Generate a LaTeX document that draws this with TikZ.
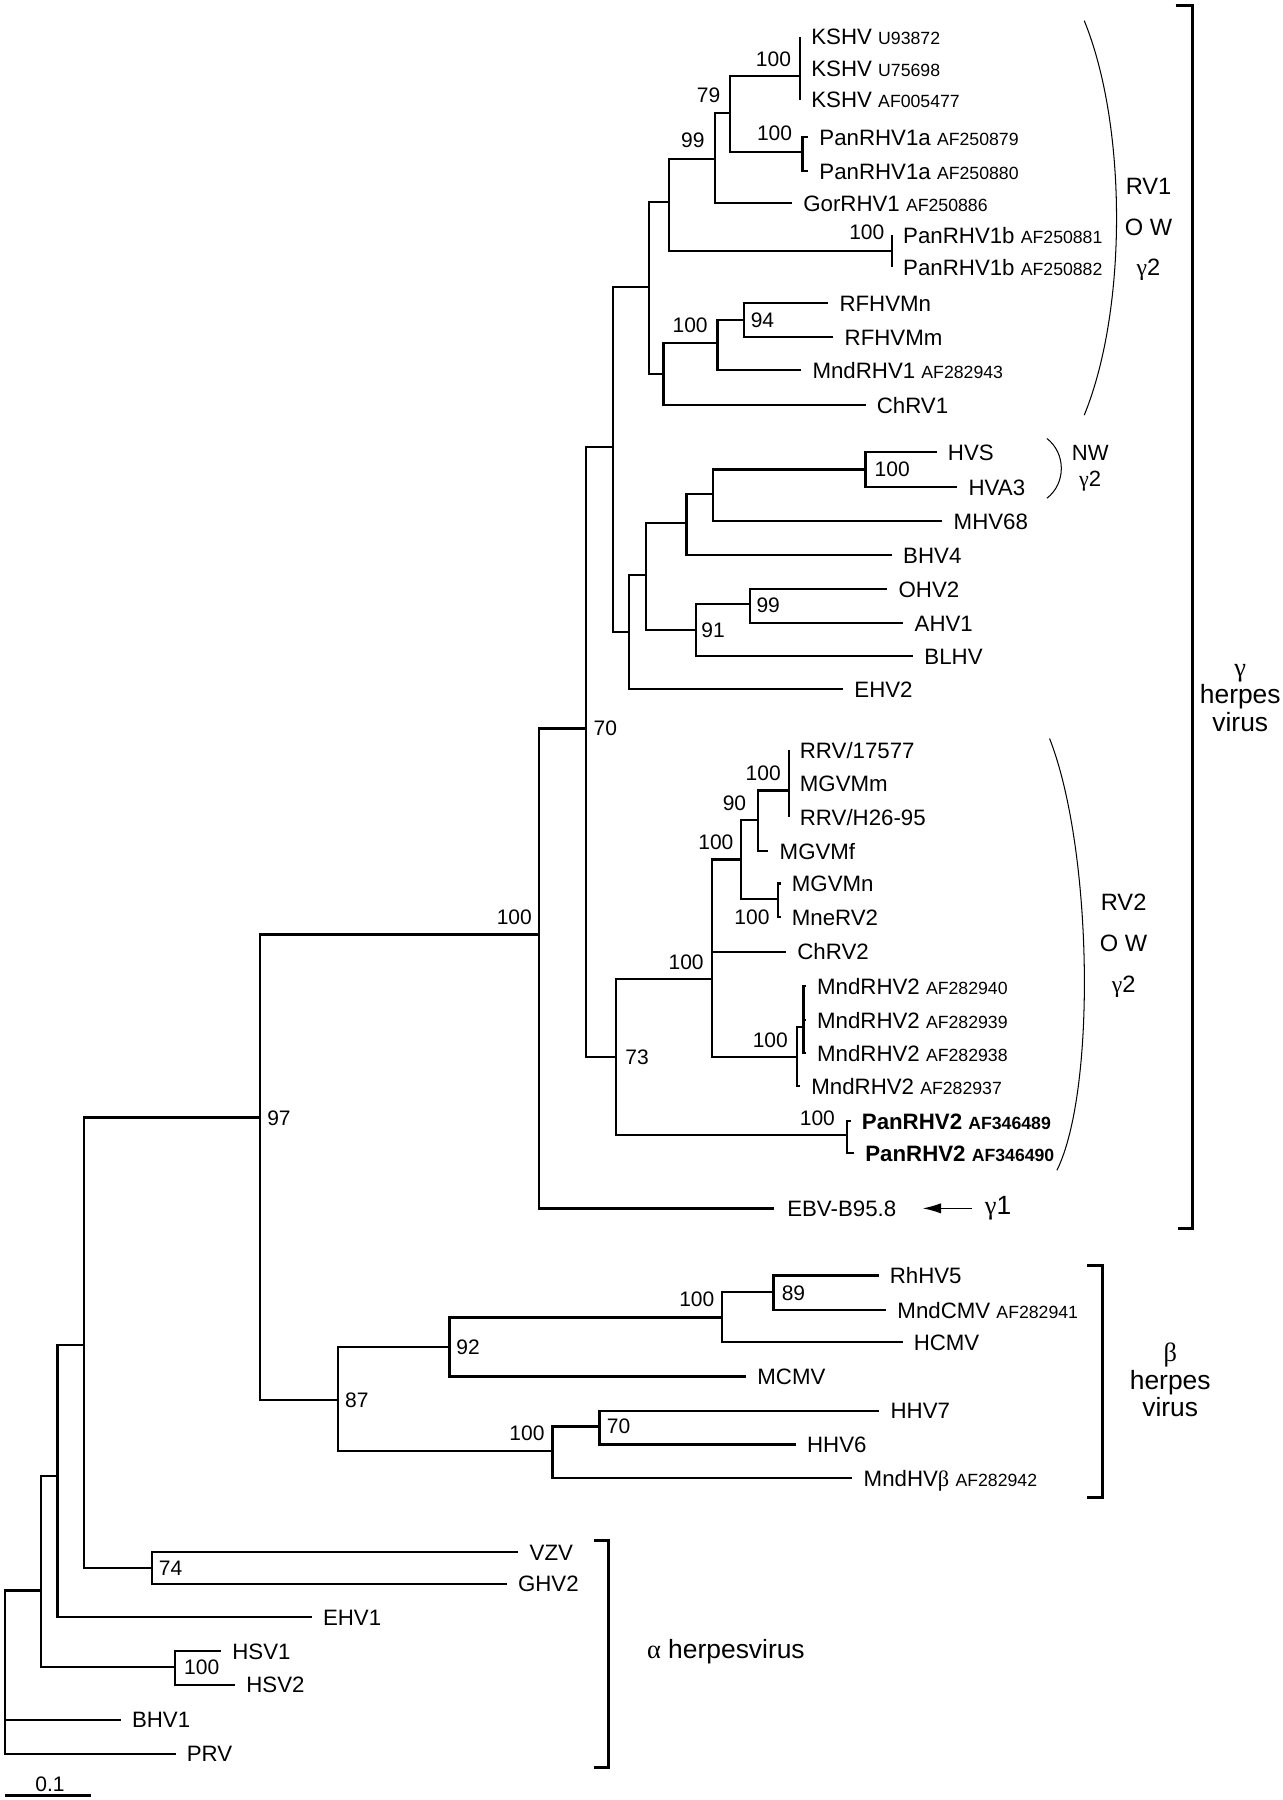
\documentclass[tikz,border=0pt]{standalone}
\usepackage{fontspec}
\setmainfont{Liberation Sans}
\newfontfamily\grk{Liberation Serif}
\usetikzlibrary{arrows.meta}
\newcommand{\accno}[1]{{\fontsize{7.7pt}{8pt}\selectfont #1}}

\begin{document}
\begin{tikzpicture}[
    x=0.5pt, y=-0.5pt, line width=1pt,
    lbl/.style={anchor=west, inner xsep=4.4pt, inner ysep=0pt, text height=7pt, text depth=0pt, font=\fontsize{9.7pt}{11pt}\selectfont},
    boot/.style={inner sep=0pt, text height=6.5pt, text depth=0pt, font=\fontsize{9.15pt}{11pt}\selectfont},
    grp/.style={align=center, font=\fontsize{11.5pt}{12pt}\selectfont},
    rvgrp/.style={align=center, font=\fontsize{10.3pt}{17.75pt}\selectfont},
    brk/.style={line width=1.3pt},
    arc/.style={line width=0.45pt},
    arr/.style={line width=0.6pt, -{Latex[length=8pt, width=4.5pt]}, shorten >=5.6pt}
]
\useasboundingbox (0,0) rectangle (1117,1568);

% gamma-2, RV1 lineage
\node[lbl] (k1) at (697,32) {KSHV \accno{U93872}};
\node[lbl] (k2) at (697,59.5) {KSHV \accno{U75698}};
\node[lbl] (k3) at (697,87) {KSHV \accno{AF005477}};
\node[lbl] (p1) at (704,119.4) {PanRHV1a \accno{AF250879}};
\node[lbl] (p2) at (704,149) {PanRHV1a \accno{AF250880}};
\node[lbl] (gor) at (690,177) {GorRHV1 \accno{AF250886}};
\node[lbl] (q1) at (777,204.8) {PanRHV1b \accno{AF250881}};
\node[lbl] (q2) at (777,232.6) {PanRHV1b \accno{AF250882}};
\node[lbl] (rfn) at (721.5,264) {RFHVMn};
\node[lbl] (rfm) at (726,293.6) {RFHVMm};
\node[lbl] (mnd1) at (698,322.4) {MndRHV1 \accno{AF282943}};
\node[lbl] (chrv1) at (754,353) {ChRV1};
\coordinate (kshv) at (697,66);
\coordinate (pan1a) at (699,132.4);
\coordinate (n79) at (636,98.5);
\coordinate (n99) at (623,138.5);
\coordinate (pan1b) at (777,218.7);
\coordinate (rv1a) at (583,176);
\coordinate (n94) at (648,278.8);
\coordinate (rfhv) at (625,299);
\coordinate (rv1b) at (578,326);
\coordinate (rv1) at (565.5,250);
\draw (kshv) |- (k1) (kshv) |- (k2) (kshv) |- (k3);
\draw (pan1a) |- (p1) (pan1a) |- (p2);
\draw (n79) |- (kshv) (n79) |- (pan1a);
\draw (n99) |- (n79) (n99) |- (gor);
\draw (pan1b) |- (q1) (pan1b) |- (q2);
\draw (rv1a) |- (n99) (rv1a) |- (pan1b);
\draw (n94) |- (rfn) (n94) |- (rfm);
\draw (rfhv) |- (n94) (rfhv) |- (mnd1);
\draw (rv1b) |- (rfhv) (rv1b) |- (chrv1);
\draw (rv1) |- (rv1a) (rv1) |- (rv1b);
\node[boot] (b1) at (673.8,51.7) {100};
\node[boot] (b2) at (617.2,82.8) {79};
\node[boot] (b3) at (674.7,116.2) {100};
\node[boot] (b4) at (603.5,122) {99};
\node[boot] (b5) at (755.1,202.4) {100};
\node[boot] (b6) at (601.2,283.2) {100};
\node[boot] (b7) at (664.2,278.8) {94};

% other gamma-2
\node[lbl] (hvs) at (816,393.8) {HVS};
\node[lbl] (hva3) at (834,424.3) {HVA3};
\node[lbl] (mhv68) at (821,454) {MHV68};
\node[lbl] (bhv4) at (777,483.6) {BHV4};
\node[lbl] (ohv2) at (773,513.2) {OHV2};
\node[lbl] (ahv1) at (787,542.8) {AHV1};
\node[lbl] (blhv) at (795.5,571.6) {BLHV};
\node[lbl] (ehv2) at (734.5,600.3) {EHV2};
\coordinate (nw) at (754,409);
\coordinate (mhv) at (621,430.4);
\coordinate (bhv) at (598,455.7);
\coordinate (ohv) at (653.5,526);
\coordinate (n91) at (606.5,549);
\coordinate (ungul) at (563,501);
\coordinate (ehv) at (548,550.7);
\coordinate (gtwo) at (534,389.5);
\draw (nw) |- (hvs) (nw) |- (hva3);
\draw (mhv) |- (nw) (mhv) |- (mhv68);
\draw (bhv) |- (mhv) (bhv) |- (bhv4);
\draw (ohv) |- (ohv2) (ohv) |- (ahv1);
\draw (n91) |- (ohv) (n91) |- (blhv);
\draw (ungul) |- (bhv) (ungul) |- (n91);
\draw (ehv) |- (ungul) (ehv) |- (ehv2);
\draw (gtwo) |- (rv1) (gtwo) |- (ehv);
\node[boot] (b8) at (777.2,408.6) {100};
\node[boot] (b9) at (669.2,527) {99};
\node[boot] (b10) at (621.2,549) {91};

% gamma-2, RV2 lineage
\node[lbl] (rrv1) at (687,653.5) {RRV/17577};
\node[lbl] (mgvmm) at (687,682.5) {MGVMm};
\node[lbl] (rrv2) at (687,712) {RRV/H26-95};
\node[lbl] (mgvmf) at (669.4,741.5) {MGVMf};
\node[lbl] (mgvmn) at (680,769.6) {MGVMn};
\node[lbl] (mnerv2) at (680,799) {MneRV2};
\node[lbl] (chrv2) at (684.8,829.2) {ChRV2};
\node[lbl] (m40) at (702,859) {MndRHV2 \accno{AF282940}};
\node[lbl] (m39) at (702,888.5) {MndRHV2 \accno{AF282939}};
\node[lbl] (m38) at (702,917.5) {MndRHV2 \accno{AF282938}};
\node[lbl] (m37) at (697,946.3) {MndRHV2 \accno{AF282937}};
\node[lbl, font=\fontsize{9.7pt}{11pt}\selectfont\bfseries] (pr89) at (741,976.8) {PanRHV2 \accno{AF346489}};
\node[lbl, font=\fontsize{9.7pt}{11pt}\selectfont\bfseries] (pr90) at (744,1004.6) {PanRHV2 \accno{AF346490}};
\node[lbl, inner xsep=5.4pt] (ebv) at (674,1052.6) {EBV-B95.8};
\coordinate (rrv) at (687,688.5);
\coordinate (n90) at (660.3,714.5);
\coordinate (mgvn) at (678,783.4);
\coordinate (mgvall) at (645.6,748.7);
\coordinate (mndin) at (700,894.6);
\coordinate (mnd2) at (694,921);
\coordinate (rv2) at (620.4,853);
\coordinate (pan2) at (737.6,989);
\coordinate (n73) at (536.5,921);
\coordinate (n70) at (510.5,634.6);
\coordinate (gam) at (469.3,814);
\draw (rrv) |- (rrv1) (rrv) |- (mgvmm) (rrv) |- (rrv2);
\draw (n90) |- (rrv) (n90) |- (mgvmf);
\draw (mgvn) |- (mgvmn) (mgvn) |- (mnerv2);
\draw (mgvall) |- (n90) (mgvall) |- (mgvn);
\draw (mndin) |- (m40) (mndin) |- (m39) (mndin) |- (m38);
\draw (mnd2) |- (mndin) (mnd2) |- (m37);
\draw (rv2) |- (mgvall) (rv2) |- (chrv2) (rv2) |- (mnd2);
\draw (pan2) |- (pr89) (pan2) |- (pr90);
\draw (n73) |- (rv2) (n73) |- (pan2);
\draw (n70) |- (gtwo) (n70) |- (n73);
\draw (gam) |- (n70) (gam) |- (ebv);
\node[boot] (b11) at (664.8,673.5) {100};
\node[boot] (b12) at (639.8,699.7) {90};
\node[boot] (b13) at (623.6,733.4) {100};
\node[boot] (b14) at (655,799) {100};
\node[boot] (b15) at (597.7,838) {100};
\node[boot] (b16) at (671,906) {100};
\node[boot] (b17) at (712,974) {100};
\node[boot] (b18) at (554.9,921) {73};
\node[boot] (b19) at (527.3,634.6) {70};
\node[boot] (b20) at (448,798.7) {100};

\node[grp, anchor=west, inner xsep=5pt, inner ysep=0pt] (g1) at (847,1052.6) {{\grk γ}1};
\draw[arr] (g1) -- (ebv);

% beta
\node[lbl] (rhhv5) at (765.3,1111) {RhHV5};
\node[lbl] (mndcmv) at (772,1141.4) {MndCMV \accno{AF282941}};
\node[lbl] (hcmv) at (786.2,1169) {HCMV};
\node[lbl] (mcmv) at (650,1199) {MCMV};
\node[lbl] (hhv7) at (766,1229) {HHV7};
\node[lbl] (hhv6) at (693.3,1258.2) {HHV6};
\node[lbl] (mndhvb) at (742.6,1287.5) {MndHV{\grk β} \accno{AF282942}};
\coordinate (n89) at (673.8,1125.4);
\coordinate (cmv) at (628.8,1147.8);
\coordinate (n92) at (391.5,1173.4);
\coordinate (n70b) at (522.2,1242.5);
\coordinate (roseo) at (481.3,1264);
\coordinate (n87) at (294.2,1219.3);
\coordinate (n97) at (226.7,973.5);
\draw (n89) |- (rhhv5) (n89) |- (mndcmv);
\draw (cmv) |- (n89) (cmv) |- (hcmv);
\draw (n92) |- (cmv) (n92) |- (mcmv);
\draw (n70b) |- (hhv7) (n70b) |- (hhv6);
\draw (roseo) |- (n70b) (roseo) |- (mndhvb);
\draw (n87) |- (n92) (n87) |- (roseo);
\draw (n97) |- (gam) (n97) |- (n87);
\node[boot] (b21) at (691.2,1126.3) {89};
\node[boot] (b22) at (607,1132) {100};
\node[boot] (b23) at (407.8,1173.4) {92};
\node[boot] (b24) at (538.8,1242.5) {70};
\node[boot] (b25) at (459,1248.6) {100};
\node[boot] (b26) at (310.8,1219.3) {87};
\node[boot] (b27) at (243,973.5) {97};

% alpha
\node[lbl] (vzv) at (451.6,1352) {VZV};
\node[lbl] (ghv2) at (441.5,1379.6) {GHV2};
\node[lbl] (ehv1) at (271.6,1408.6) {EHV1};
\node[lbl] (hsv1) at (192.6,1438.2) {HSV1};
\node[lbl] (hsv2) at (204.8,1467.6) {HSV2};
\node[lbl] (bhv1) at (105.2,1498) {BHV1};
\node[lbl] (prv) at (153,1527.7) {PRV};
\coordinate (n74) at (132.2,1365.6);
\coordinate (na) at (73.2,1171.4);
\coordinate (nb) at (50,1286);
\coordinate (hsv) at (152.2,1452.2);
\coordinate (nc) at (35.7,1385.4);
\coordinate (root) at (4.4,1456);
\draw (n74) |- (vzv) (n74) |- (ghv2);
\draw (na) |- (n97) (na) |- (n74);
\draw (nb) |- (na) (nb) |- (ehv1);
\draw (hsv) |- (hsv1) (hsv) |- (hsv2);
\draw (nc) |- (nb) (nc) |- (hsv);
\draw (root) |- (nc) (root) |- (bhv1) (root) |- (prv);
\node[boot] (b28) at (148.6,1365.6) {74};
\node[boot] (b29) at (175.7,1452.2) {100};

% groups
\draw[arc] (944.5,18) .. controls (982,110) and (982,270) .. (944.5,361.6);
\node[rvgrp] (rv1lbl) at (1000.5,200) {RV1\\O W\\{\grk γ}2};
\draw[arc] (912,382) .. controls (928.7,395) and (928.7,421) .. (912,434);
\node[align=center, font=\fontsize{9.6pt}{11pt}\selectfont] (nwlbl) at (949.7,408) {NW\\{\grk γ}2};
\draw[arc] (914.3,643.3) .. controls (952,740) and (955,950) .. (920.7,1019.4);
\node[rvgrp] (rv2lbl) at (978.8,824) {RV2\\O W\\{\grk γ}2};
\draw[brk] (1024,4.4) -- (1039.2,4.4) -- (1039.2,1070.2) -- (1026,1070.2);
\node[grp] (gamlbl) at (1080.4,608) {{\grk γ}\\herpes\\virus};
\draw[brk] (946.8,1102.2) -- (960,1102.2) -- (960,1304.6) -- (946.8,1304.6);
\node[grp] (betlbl) at (1019.4,1202) {{\grk β}\\herpes\\virus};
\draw[brk] (517.6,1341.8) -- (530,1341.8) -- (530,1539.3) -- (517.6,1539.3);
\node[grp, anchor=west] (alplbl) at (556,1439) {{\grk α} herpesvirus};

% scale bar
\coordinate (s0) at (4.4,1564);
\coordinate (s1) at (79,1564);
\draw (s0) -- (s1);
\node[boot] (sbl) at (43.6,1554.5) {0.1};
\end{tikzpicture}
\end{document}
